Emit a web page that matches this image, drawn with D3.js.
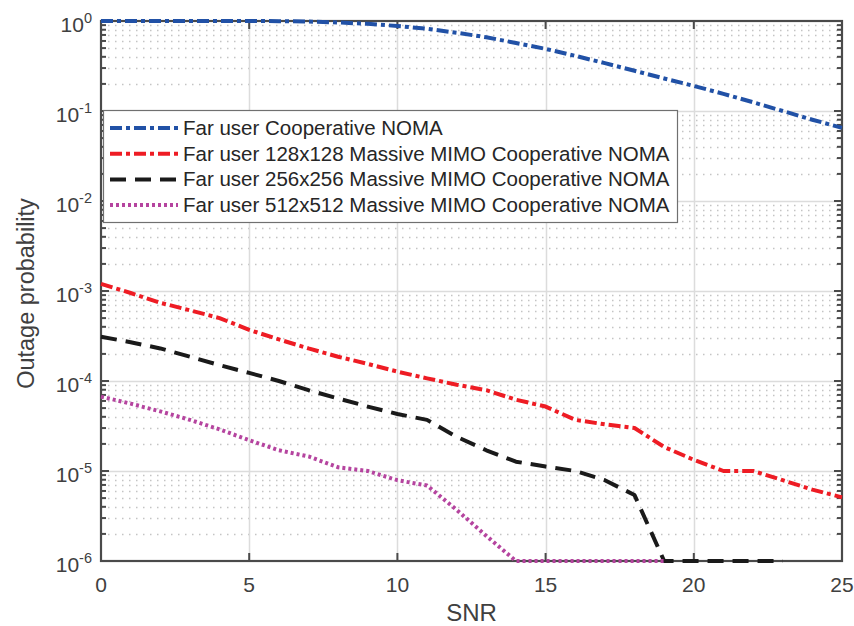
<!DOCTYPE html>
<html>
<head>
<meta charset="utf-8">
<script src="https://cdn.jsdelivr.net/npm/d3@7"></script>
<style>
  html, body { margin: 0; padding: 0; background: #fff; }
  svg { display: block; font-family: "Liberation Sans", Arial, Helvetica, sans-serif; }
</style>
</head>
<body>
<svg id="chart" width="854" height="626"></svg>
<script>
// SNR axis (dB)
const snr = d3.range(0, 26);

// Outage probability of the far user, per scheme
const conventional = [1.0, 1.0, 1.0, 1.0, 1.0, 0.999, 0.996, 0.987, 0.963, 0.93, 0.88, 0.82, 0.74,
  0.66, 0.57, 0.49, 0.41, 0.34, 0.28, 0.23, 0.19, 0.155, 0.125, 0.10, 0.08, 0.065];
const mimo128 = [1.2e-3, 9.5e-4, 7.4e-4, 6.1e-4, 5.0e-4, 3.7e-4, 2.9e-4, 2.3e-4, 1.86e-4, 1.55e-4,
  1.27e-4, 1.07e-4, 9.1e-5, 7.9e-5, 6.2e-5, 5.2e-5, 3.7e-5, 3.3e-5, 3.0e-5, 1.85e-5, 1.33e-5,
  1.0e-5, 1.0e-5, 7.9e-6, 6.2e-6, 5.1e-6];
const mimo256 = [3.1e-4, 2.7e-4, 2.3e-4, 1.86e-4, 1.5e-4, 1.23e-4, 1.0e-4, 7.9e-5, 6.4e-5, 5.2e-5,
  4.3e-5, 3.7e-5, 2.4e-5, 1.7e-5, 1.27e-5, 1.12e-5, 1.0e-5, 7.9e-6, 5.4e-6, 1e-6, 1e-6, 1e-6,
  1e-6, 1e-6];
const mimo512 = [6.7e-5, 5.6e-5, 4.6e-5, 3.7e-5, 2.9e-5, 2.2e-5, 1.7e-5, 1.45e-5, 1.1e-5, 1.0e-5,
  7.9e-6, 6.9e-6, 3.7e-6, 1.9e-6, 1e-6, 1e-6, 1e-6, 1e-6, 1e-6, 1e-6];

const seriesNames = [
  "Far user Cooperative NOMA",
  "Far user 128x128 Massive MIMO Cooperative NOMA",
  "Far user 256x256 Massive MIMO Cooperative NOMA",
  "Far user 512x512 Massive MIMO Cooperative NOMA"
];
const xTicks = [0, 5, 10, 15, 20, 25];
const yExponents = [0, -1, -2, -3, -4, -5, -6];

const series = [
  { name: seriesNames[0], values: conventional, color: "#2151a6", dash: "12,4,4,4" },
  { name: seriesNames[1], values: mimo128, color: "#ee1c24", dash: "12,4,4,4" },
  { name: seriesNames[2], values: mimo256, color: "#1a1a1a", dash: "16,9" },
  { name: seriesNames[3], values: mimo512, color: "#b5449f", dash: "3,3" }
];

const svg = d3.select("#chart");
const m = { left: 101, top: 21, right: 842, bottom: 561 };
const x = d3.scaleLinear().domain([0, 25]).range([m.left, m.right]);
const y = d3.scaleLog().domain([1e-6, 1]).range([m.bottom, m.top]);

const axisColor = "#4a4a4a";
const textColor = "#404040";

// grid: minor (dotted) then major (solid)
const minorVals = [];
for (let e = -6; e < 0; e++) for (let k = 2; k <= 9; k++) minorVals.push(k * Math.pow(10, e));
const grid = svg.append("g");
grid.selectAll(".minor").data(minorVals).join("line")
  .attr("x1", m.left).attr("x2", m.right)
  .attr("y1", d => Math.round(y(d)) + 0.5).attr("y2", d => Math.round(y(d)) + 0.5)
  .attr("stroke", "#c4c4c4").attr("stroke-width", 1.5).attr("stroke-dasharray", "1.5,5.5");
grid.selectAll(".hmaj").data(yExponents.slice(1, -1)).join("line")
  .attr("x1", m.left).attr("x2", m.right)
  .attr("y1", d => Math.round(y(Math.pow(10, d))) + 0.5).attr("y2", d => Math.round(y(Math.pow(10, d))) + 0.5)
  .attr("stroke", "#dcdcdc").attr("stroke-width", 1.5);
grid.selectAll(".vmaj").data(xTicks.slice(1, -1)).join("line")
  .attr("y1", m.top).attr("y2", m.bottom)
  .attr("x1", d => Math.round(x(d)) + 0.5).attr("x2", d => Math.round(x(d)) + 0.5)
  .attr("stroke", "#dcdcdc").attr("stroke-width", 1.5);

// axes with inward ticks on all four sides
const tickG = svg.append("g").attr("stroke", axisColor).attr("stroke-width", 2);
xTicks.forEach(t => {
  const px = x(t);
  tickG.append("line").attr("x1", px).attr("x2", px).attr("y1", m.bottom).attr("y2", m.bottom - 8);
  tickG.append("line").attr("x1", px).attr("x2", px).attr("y1", m.top).attr("y2", m.top + 8);
});
yExponents.forEach(e => {
  const py = y(Math.pow(10, e));
  tickG.append("line").attr("x1", m.left).attr("x2", m.left + 8).attr("y1", py).attr("y2", py);
  tickG.append("line").attr("x1", m.right).attr("x2", m.right - 8).attr("y1", py).attr("y2", py);
});
minorVals.forEach(v => {
  const py = y(v);
  tickG.append("line").attr("x1", m.left).attr("x2", m.left + 5).attr("y1", py).attr("y2", py);
  tickG.append("line").attr("x1", m.right).attr("x2", m.right - 5).attr("y1", py).attr("y2", py);
});

svg.append("rect")
  .attr("x", m.left).attr("y", m.top)
  .attr("width", m.right - m.left).attr("height", m.bottom - m.top)
  .attr("fill", "none").attr("stroke", axisColor).attr("stroke-width", 2.2);

// tick labels
svg.append("g").selectAll("text").data(xTicks).join("text")
  .attr("x", d => x(d)).attr("y", 592)
  .attr("text-anchor", "middle").attr("fill", textColor)
  .attr("font-size", 21).text(d => d);

const yl = svg.append("g").selectAll("text").data(yExponents).join("text")
  .attr("x", 92).attr("y", d => y(Math.pow(10, d)) + 10.5)
  .attr("text-anchor", "end").attr("fill", textColor).attr("font-size", 21);
yl.append("tspan").text("10");
yl.append("tspan").attr("dy", -8.5).attr("font-size", 14.5).text(d => d);

// axis titles
svg.append("text").attr("x", (m.left + m.right) / 2).attr("y", 621)
  .attr("text-anchor", "middle").attr("fill", textColor).attr("font-size", 24).text("SNR");
svg.append("text").attr("transform", "translate(34,293.5) rotate(-90)")
  .attr("text-anchor", "middle").attr("fill", textColor).attr("font-size", 23.5).text("Outage probability");

// series lines
svg.append("clipPath").attr("id", "plotclip").append("rect")
  .attr("x", m.left - 2).attr("y", m.top - 3).attr("width", m.right - m.left + 4).attr("height", m.bottom - m.top + 6);
const line = d3.line().x((d, i) => x(snr[i])).y(d => y(d));
svg.append("g").attr("clip-path", "url(#plotclip)")
  .selectAll("path").data(series).join("path")
  .attr("d", d => line(d.values))
  .attr("fill", "none").attr("stroke", d => d.color)
  .attr("stroke-width", 4).attr("stroke-dasharray", d => d.dash)
  .attr("stroke-linejoin", "round");

// legend
const lg = svg.append("g");
lg.append("rect").attr("x", 103.5).attr("y", 110.5).attr("width", 574).attr("height", 112)
  .attr("fill", "#fff").attr("stroke", "#707070").attr("stroke-width", 1.2);
series.forEach((s, i) => {
  const cy = 128 + i * 25.7;
  lg.append("line").attr("x1", 110).attr("x2", 178).attr("y1", cy).attr("y2", cy)
    .attr("stroke", s.color).attr("stroke-width", 4).attr("stroke-dasharray", s.dash);
  lg.append("text").attr("x", 183).attr("y", cy + 7).attr("fill", "#262626")
    .attr("font-size", 20.5).text(s.name);
});
</script>
</body>
</html>
